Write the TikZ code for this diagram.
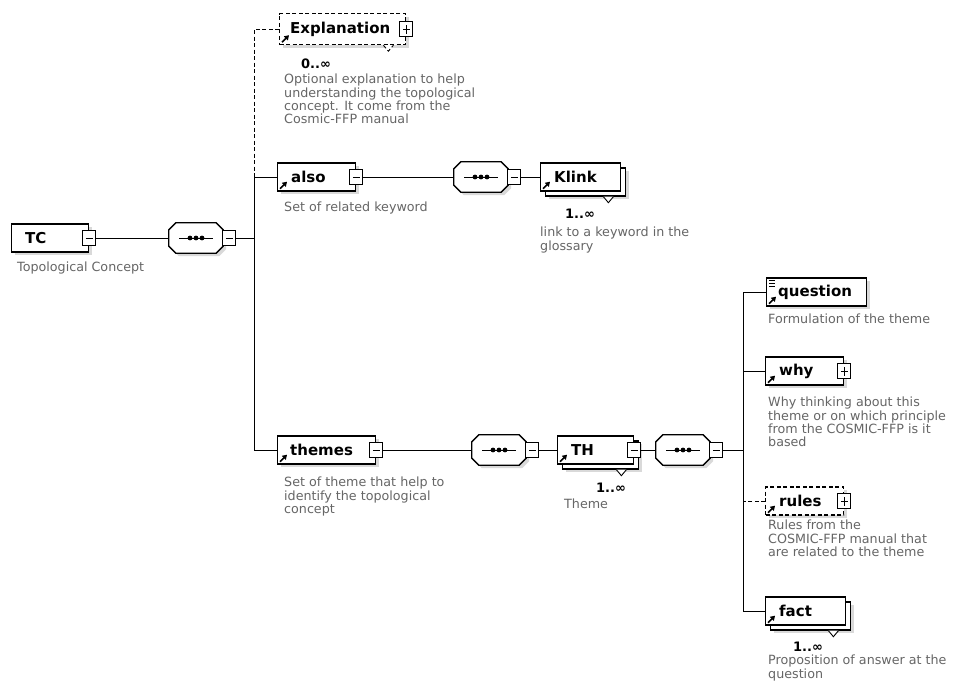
\documentclass[tikz,border=0pt]{standalone}
\usepackage{fontspec}
\setmainfont{DejaVu Sans}
\usetikzlibrary{positioning,shadows,arrows.meta}

% 八边形外框, #2 为偏移(阴影用)
\newcommand\octpath[2]{([shift={(7+#2,#2)}]#1.north west) -- ([shift={(-7+#2,#2)}]#1.north east)
    -- ([shift={(#2,7+#2)}]#1.north east) -- ([shift={(#2,-7+#2)}]#1.south east)
    -- ([shift={(-7+#2,#2)}]#1.south east) -- ([shift={(7+#2,#2)}]#1.south west)
    -- ([shift={(#2,-7+#2)}]#1.south west) -- ([shift={(#2,7+#2)}]#1.north west) -- cycle}

\begin{document}
\begin{tikzpicture}[x=1pt, y=-1pt,
    elem/.style={draw, line width=1.4pt, fill=white, minimum height=28pt, inner sep=0pt, anchor=west},
    shade on/.style={drop shadow={shadow xshift=3pt, shadow yshift=-3pt, fill=black!15, opacity=1}},
    opt/.style={dash pattern=on 4pt off 2.5pt},
    title/.style={inner sep=0pt, anchor=west, font=\bfseries\fontsize{15}{17}\selectfont},
    desc/.style={inner sep=0pt, anchor=north west, align=left, text=black!60, font=\fontsize{12.7}{13.3}\selectfont},
    mult/.style={inner sep=0pt, font=\bfseries\fontsize{13}{15}\selectfont},
    wire/.style={line width=0.9pt},
    glyph/.style={line width=1.7pt, -{Triangle[length=4.5pt, width=5.5pt]}},
    minusbox/.style={draw, line width=1.1pt, fill=white, minimum width=13pt, minimum height=15pt, inner sep=0pt,
        path picture={\draw[line width=0.9pt] ([xshift=3pt]path picture bounding box.west) -- ([xshift=-3pt]path picture bounding box.east);}},
    plusbox/.style={minusbox, path picture={
        \draw[line width=0.9pt] ([xshift=3pt]path picture bounding box.west) -- ([xshift=-3pt]path picture bounding box.east);
        \draw[line width=0.9pt] ([yshift=3pt]path picture bounding box.south) -- ([yshift=-3pt]path picture bounding box.north);}},
    seq/.style={minimum width=54pt, minimum height=30pt, inner sep=0pt,
        append after command={\pgfextra{
        \fill[black!15] \octpath{\tikzlastnode}{3};
        \draw[line width=1.3pt, fill=white] \octpath{\tikzlastnode}{0};
        \draw[line width=1pt] ([xshift=-17pt]\tikzlastnode.center) -- ([xshift=17pt]\tikzlastnode.center);
        \foreach \dx in {-6,0,6} \fill ([xshift=\dx pt]\tikzlastnode.center) circle (2.4pt);}}},
]
    \fill[white] (0,0) rectangle (953,688);
    \useasboundingbox (0,0) rectangle (953,688);

    % 根元素 TC
    \node[elem, shade on, minimum width=77pt] (tc) at (11,238) {};
    \node[title, right=14pt of tc.west] (tc-t) {TC};
    \node[minusbox] (tc-m) at (tc.east) {};
    \node[desc] (tc-d) at (17,262) {Topological Concept};

    \node[seq] (c1) at (196,238) {};
    \node[minusbox, anchor=west] (c1-m) at ([xshift=-1pt]c1.east) {};
    \draw[wire] (tc-m) -- (c1);

    \coordinate (bus1) at (254,0);    % 第一条竖线
    \coordinate (bus2) at (743,0);    % 第二条竖线

    % Explanation, 可选元素
    \node[elem, opt, shade on, minimum width=126pt, minimum height=31pt] (expl) at (279,29) {};
    \node[title, right=11pt of expl.west] (expl-t) {Explanation};
    \draw[glyph] ([shift={(3,-3)}]expl.south west) -- ++(7,-7);
    \node[plusbox] (expl-p) at (expl.east) {};
    \draw[line width=0.9pt, opt, fill=white] ([xshift=-23pt]expl.south east) -- ++(5,6) -- ++(5,-6);
    \node[mult] (expl-n) at (316,64) {0..∞};
    \node[desc] (expl-d) at (284,74) {Optional explanation to help\\understanding the topological\\concept. It come from the\\Cosmic-FFP manual};

    % also -> Klink
    \node[elem, shade on, minimum width=78pt] (also) at (277,177) {};
    \node[title, right=14pt of also.west] (also-t) {also};
    \draw[glyph] ([shift={(3,-3)}]also.south west) -- ++(7,-7);
    \node[minusbox] (also-m) at (also.east) {};
    \node[desc] (also-d) at (284,202) {Set of related keyword};

    \node[seq] (c2) at (481,177) {};
    \node[minusbox, anchor=west] (c2-m) at ([xshift=-1pt]c2.east) {};
    \draw[wire] (also-m) -- (c2);

    \node[elem, shade on, minimum width=80pt] (klink-b) at (545,182) {};    % 后面那层
    \node[elem, minimum width=80pt] (klink) at (540,177) {};
    \node[title, right=14pt of klink.west] (klink-t) {Klink};
    \draw[glyph] ([shift={(3,-3)}]klink.south west) -- ++(7,-7);
    \draw[line width=0.9pt, fill=white] ([xshift=-23pt]klink-b.south east) -- ++(5,6) -- ++(5,-6);
    \node[mult] (klink-n) at (580,214) {1..∞};
    \node[desc] (klink-d) at (540,227) {link to a keyword in the\\glossary};
    \draw[wire] (c2-m) -- (klink);

    % themes -> TH
    \node[elem, shade on, minimum width=98pt] (themes) at (277,450) {};
    \node[title, right=13pt of themes.west] (themes-t) {themes};
    \draw[glyph] ([shift={(3,-3)}]themes.south west) -- ++(7,-7);
    \node[minusbox] (themes-m) at (themes.east) {};
    \node[desc] (themes-d) at (284,477) {Set of theme that help to\\identify the topological\\concept};

    \node[seq] (c3) at (499,450) {};
    \node[minusbox, anchor=west] (c3-m) at ([xshift=-1pt]c3.east) {};
    \draw[wire] (themes-m) -- (c3);

    \node[elem, shade on, minimum width=76pt] (th-b) at (562,455) {};
    \node[elem, minimum width=76pt] (th) at (557,450) {};
    \node[title, right=14pt of th.west] (th-t) {TH};
    \draw[glyph] ([shift={(3,-3)}]th.south west) -- ++(7,-7);
    \node[minusbox] (th-m) at (th.east) {};
    \draw[line width=0.9pt, fill=white] ([xshift=-23pt]th-b.south east) -- ++(5,6) -- ++(5,-6);
    \node[mult] (th-n) at (611,488) {1..∞};
    \node[desc] (th-d) at (564,499) {Theme};
    \draw[wire] (c3-m) -- (th);

    \node[seq] (c4) at (683,450) {};
    \node[minusbox, anchor=west] (c4-m) at ([xshift=-1pt]c4.east) {};
    \draw[wire] (th-m) -- (c4);

    % 右边一列
    \node[elem, shade on, minimum width=100pt] (quest) at (766,292) {};
    \node[title, right=12pt of quest.west] (quest-t) {question};
    \draw[glyph] ([shift={(3,-3)}]quest.south west) -- ++(7,-7);
    \foreach \dy in {3,6,9}
        \draw[line width=0.8pt] ([shift={(3,\dy)}]quest.north west) -- ++(6,0);    % 文本图标
    \node[desc] (quest-d) at (768,314) {Formulation of the theme};

    \node[elem, shade on, minimum width=78pt] (why) at (765,371) {};
    \node[title, right=14pt of why.west] (why-t) {why};
    \draw[glyph] ([shift={(3,-3)}]why.south west) -- ++(7,-7);
    \node[plusbox] (why-p) at (why.east) {};
    \node[desc] (why-d) at (768,397) {Why thinking about this\\theme or on which principle\\from the COSMIC-FFP is it\\based};

    \node[elem, opt, shade on, minimum width=78pt] (rules) at (765,501) {};
    \node[title, right=14pt of rules.west] (rules-t) {rules};
    \draw[glyph] ([shift={(3,-3)}]rules.south west) -- ++(7,-7);
    \node[plusbox] (rules-p) at (rules.east) {};
    \node[desc] (rules-d) at (768,520) {Rules from the\\COSMIC-FFP manual that\\are related to the theme};

    \node[elem, shade on, minimum width=80pt] (fact-b) at (770,616) {};
    \node[elem, minimum width=80pt] (fact) at (765,611) {};
    \node[title, right=14pt of fact.west] (fact-t) {fact};
    \draw[glyph] ([shift={(3,-3)}]fact.south west) -- ++(7,-7);
    \draw[line width=0.9pt, fill=white] ([xshift=-23pt]fact-b.south east) -- ++(5,6) -- ++(5,-6);
    \node[mult] (fact-n) at (808,647) {1..∞};
    \node[desc] (fact-d) at (768,655) {Proposition of answer at the\\question};

    % 连线
    \draw[wire] (c1-m.east) -- (c1-m.east -| bus1);
    \draw[wire, opt] (expl.west) -- (expl.west -| bus1) -- (also.west -| bus1);
    \draw[wire] (also.west) -- (also.west -| bus1) -- (themes.west -| bus1) -- (themes.west);
    \draw[wire] (c4-m.east) -- (c4-m.east -| bus2);
    \draw[wire] (quest.west) -- (quest.west -| bus2) -- (fact.west -| bus2) -- (fact.west);
    \draw[wire] (why.west) -- (why.west -| bus2);
    \draw[wire, opt] (rules.west) -- (rules.west -| bus2);
\end{tikzpicture}
\end{document}
